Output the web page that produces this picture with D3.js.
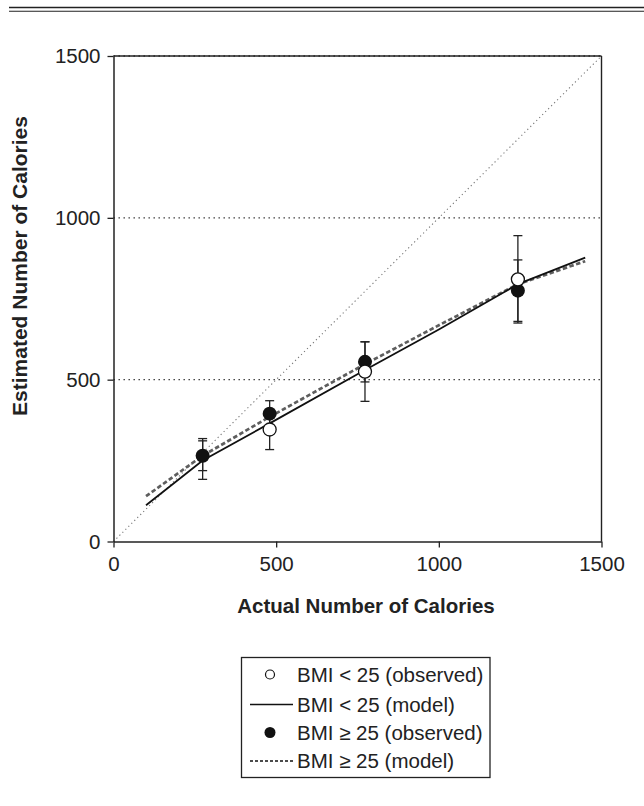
<!DOCTYPE html>
<html>
<head>
<meta charset="utf-8">
<style>
  body { margin: 0; background: #fff; }
  svg { display: block; font-family: "Liberation Sans", Arial, sans-serif; }
</style>
<script src="https://cdnjs.cloudflare.com/ajax/libs/d3/7.8.5/d3.min.js"></script>
</head>
<body>
<svg id="chart" width="644" height="806"></svg>
<script>
// observed points (actual calories on x)
const actual = [274, 480, 773, 1243];
const leanObs = [255, 346, 525, 810];
const leanErr = [63, 62, 92, 135];
const heavyObs = [265, 395, 555, 775];
const heavyErr = [46, 40, 62, 95];

// model curves
const modelX = [100, 274, 480, 773, 1000, 1243, 1450];
const leanModel = [112, 250, 365, 530, 655, 795, 877];
const heavyModel = [140, 265, 385, 548, 668, 795, 866];

const ticks = [0, 500, 1000, 1500];
const gridTicks = [500, 1000, 1500];
const legendLabels = ["BMI < 25 (observed)", "BMI < 25 (model)", "BMI \u2265 25 (observed)", "BMI \u2265 25 (model)"];

const svg = d3.select("#chart");
const x = d3.scaleLinear().domain([0, 1500]).range([113.5, 601.5]);
const y = d3.scaleLinear().domain([0, 1500]).range([541.5, 56]);

// double rule at top of page
svg.append("line").attr("x1", 9).attr("x2", 644).attr("y1", 7.5).attr("y2", 7.5)
  .attr("stroke", "#222").attr("stroke-width", 1.6);
svg.append("line").attr("x1", 9).attr("x2", 644).attr("y1", 11.2).attr("y2", 11.2)
  .attr("stroke", "#222").attr("stroke-width", 1.1);

// dotted gridlines
svg.selectAll(".grid").data(gridTicks).enter().append("line")
  .attr("x1", x(0)).attr("x2", x(1500))
  .attr("y1", d => y(d)).attr("y2", d => y(d))
  .attr("stroke", "#333").attr("stroke-width", 1.3)
  .attr("stroke-dasharray", "1.4,3.6");

// identity line
svg.append("line")
  .attr("x1", x(0)).attr("y1", y(0)).attr("x2", x(1500)).attr("y2", y(1500))
  .attr("stroke", "#777").attr("stroke-width", 1.1)
  .attr("stroke-dasharray", "1.2,3");

// frame top and right
svg.append("line").attr("x1", x(0)).attr("x2", x(1500)).attr("y1", y(1500)).attr("y2", y(1500))
  .attr("stroke", "#222").attr("stroke-width", 1.4);
svg.append("line").attr("x1", x(1500)).attr("x2", x(1500)).attr("y1", y(1500)).attr("y2", y(0))
  .attr("stroke", "#222").attr("stroke-width", 1.4);

// axes
const fmt = d3.format("d");
const xAxis = svg.append("g").attr("transform", "translate(0," + y(0) + ")")
  .call(d3.axisBottom(x).tickValues(ticks).tickFormat(fmt).tickSize(6).tickSizeOuter(0).tickPadding(9));
const yAxis = svg.append("g").attr("transform", "translate(" + x(0) + ",0)")
  .call(d3.axisLeft(y).tickValues(ticks).tickFormat(fmt).tickSize(6).tickSizeOuter(0).tickPadding(7));
[xAxis, yAxis].forEach(g => {
  g.select(".domain").attr("stroke", "#222").attr("stroke-width", 1.5);
  g.selectAll(".tick line").attr("stroke", "#222").attr("stroke-width", 1.3);
  g.selectAll(".tick text").attr("font-size", 20.5).attr("fill", "#222")
    .attr("font-family", "Liberation Sans, Arial, sans-serif");
});

// model lines
const line = d3.line().x(d => x(d[0])).y(d => y(d[1]));
svg.append("path").datum(modelX.map((v, i) => [v, heavyModel[i]]))
  .attr("d", line).attr("fill", "none").attr("stroke", "#5e5e5e")
  .attr("stroke-width", 2.7).attr("stroke-dasharray", "4.5,2.5");
svg.append("path").datum(modelX.map((v, i) => [v, leanModel[i]]))
  .attr("d", line).attr("fill", "none").attr("stroke", "#111").attr("stroke-width", 1.8);

// error bars
function errorBars(vals, errs) {
  const g = svg.append("g").attr("stroke", "#222").attr("stroke-width", 1.3);
  actual.forEach((a, i) => {
    const cx = x(a), top = y(vals[i] + errs[i]), bot = y(vals[i] - errs[i]);
    g.append("line").attr("x1", cx).attr("x2", cx).attr("y1", top).attr("y2", bot);
    g.append("line").attr("x1", cx - 4.5).attr("x2", cx + 4.5).attr("y1", top).attr("y2", top);
    g.append("line").attr("x1", cx - 4.5).attr("x2", cx + 4.5).attr("y1", bot).attr("y2", bot);
  });
}
errorBars(leanObs, leanErr);
errorBars(heavyObs, heavyErr);

svg.selectAll(".heavy").data(actual).enter().append("circle")
  .attr("cx", d => x(d)).attr("cy", (d, i) => y(heavyObs[i])).attr("r", 7)
  .attr("fill", "#111");
// open markers sit on top, except where one hides entirely under a filled one
svg.selectAll(".lean").data(actual).enter().append("circle")
  .attr("cx", d => x(d)).attr("cy", (d, i) => y(leanObs[i])).attr("r", 6.5)
  .attr("fill", "#fff").attr("stroke", "#111").attr("stroke-width", 1.3)
  .attr("display", (d, i) => Math.abs(leanObs[i] - heavyObs[i]) < 20 ? "none" : null);

// axis titles
svg.append("text").attr("x", 366).attr("y", 613).attr("text-anchor", "middle")
  .attr("font-size", 20.5).attr("font-weight", "bold").attr("fill", "#222")
  .text("Actual Number of Calories");
svg.append("text").attr("transform", "translate(27,266) rotate(-90)").attr("text-anchor", "middle")
  .attr("font-size", 21).attr("font-weight", "bold").attr("fill", "#222")
  .text("Estimated Number of Calories");

// legend
const lg = svg.append("g");
lg.append("rect").attr("x", 241.5).attr("y", 657.5).attr("width", 248.5).attr("height", 120)
  .attr("fill", "#fff").attr("stroke", "#222").attr("stroke-width", 1.3);
const rowY = [674.5, 704.5, 732.5, 761];
legendLabels.forEach((t, i) => {
  lg.append("text").attr("x", 297).attr("y", rowY[i] + 7).attr("font-size", 20.5)
    .attr("fill", "#222").text(t);
});
lg.append("circle").attr("cx", 270).attr("cy", rowY[0]).attr("r", 4.5)
  .attr("fill", "#fff").attr("stroke", "#111").attr("stroke-width", 1.2);
lg.append("line").attr("x1", 250).attr("x2", 293).attr("y1", rowY[1]).attr("y2", rowY[1])
  .attr("stroke", "#111").attr("stroke-width", 1.3);
lg.append("circle").attr("cx", 270).attr("cy", rowY[2]).attr("r", 5.5).attr("fill", "#111");
lg.append("line").attr("x1", 250).attr("x2", 293).attr("y1", rowY[3]).attr("y2", rowY[3])
  .attr("stroke", "#111").attr("stroke-width", 1.6).attr("stroke-dasharray", "3,2");
</script>
</body>
</html>
